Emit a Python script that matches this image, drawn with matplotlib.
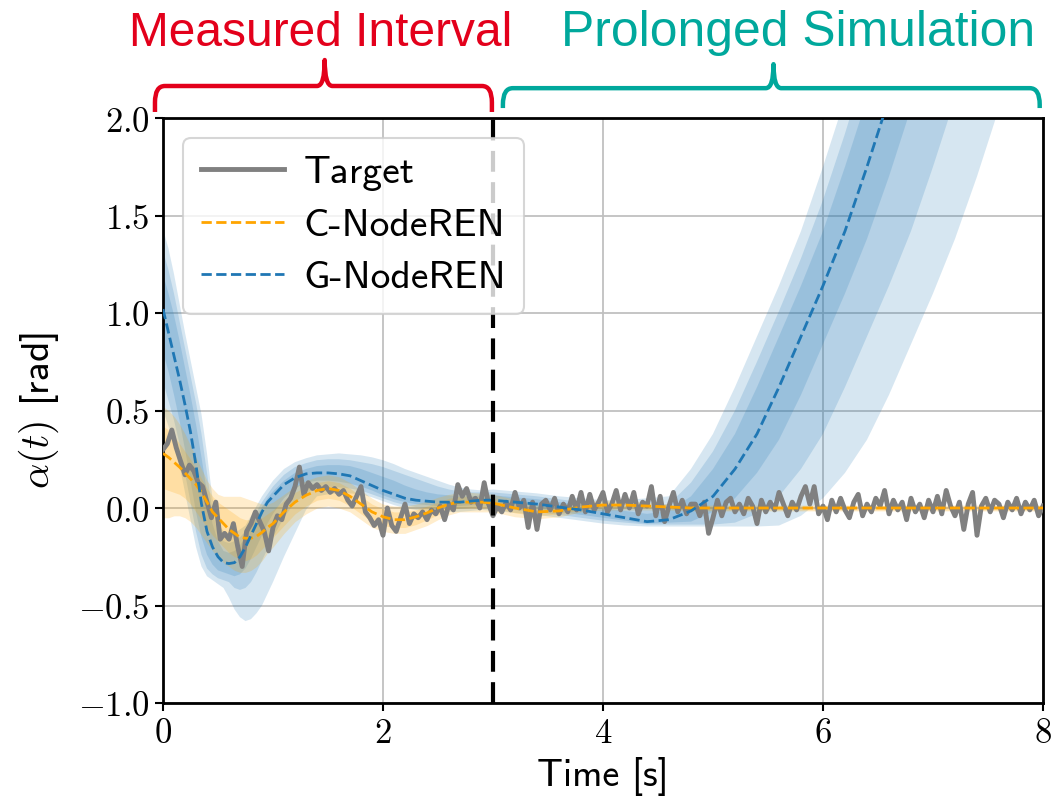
import numpy as np
import matplotlib
matplotlib.use("Agg")
import matplotlib.pyplot as plt
from matplotlib.path import Path
from matplotlib.patches import PathPatch
from matplotlib.ticker import FuncFormatter

plt.rcParams['mathtext.fontset'] = 'cm'
SANS = ['cmss10', 'DejaVu Sans']

# measured target signal, sampled every 0.04 s
t_target = np.arange(201) * 0.04
target = [
    0.30, 0.33, 0.40, 0.31, 0.24, 0.17, 0.22, 0.19, 0.13, 0.11, 0.03, -0.05, 0.03,
    -0.16, -0.13, -0.16, -0.08, -0.20, -0.30, -0.12, -0.08, -0.02, -0.07, -0.12, -0.22,
    -0.10, -0.04, -0.06, 0.02, 0.05, 0.11, 0.21, 0.07, 0.13, 0.10, 0.12, 0.09, 0.11,
    0.08, 0.10, 0.07, 0.09, 0.04, 0.01, 0.06, 0.11, -0.02, -0.05, -0.09, -0.06,
    -0.14, 0.00, -0.09, -0.12, -0.05, 0.02, -0.08, -0.03, -0.05, -0.02, -0.06, -0.01,
    -0.03, 0.01, -0.06, 0.02, -0.01, 0.12, 0.06, 0.10, 0.03, 0.05, 0.00, 0.13, 0.02,
    -0.04, 0.01, -0.02, 0.03, -0.01, 0.08, 0.00, 0.04, -0.10, 0.03, -0.11, 0.02, 0.04,
    -0.01, 0.05, -0.03, 0.02, -0.02, 0.06, -0.01, 0.08, -0.02, 0.07, -0.01, 0.03,
    0.08, -0.02, 0.02, 0.09, -0.01, 0.07, 0.00, 0.08, -0.03, 0.03, 0.01, 0.11, -0.04,
    0.06, -0.07, 0.01, 0.08, -0.02, 0.04, -0.03, 0.02, 0.02, -0.04, 0.03, -0.13,
    -0.05, 0.04, -0.04, 0.03, 0.05, -0.02, 0.02, -0.03, 0.05, 0.01, -0.08, 0.04, -0.02,
    0.03, -0.01, 0.08, 0.02, -0.04, 0.03, -0.01, 0.06, 0.11, 0.02, 0.11, -0.03,
    0.01, -0.06, 0.04, -0.02, 0.05, -0.01, -0.05, 0.03, 0.07, -0.04, 0.02, -0.02, 0.05,
    0.01, 0.09, -0.03, 0.04, -0.01, 0.03, -0.06, 0.05, -0.02, 0.02, -0.05, 0.04,
    -0.02, 0.06, -0.03, 0.09, 0.01, -0.04, 0.03, -0.11, 0.02, 0.08, -0.14, 0.01, 0.05,
    -0.02, 0.04, 0.02, -0.05, 0.03, -0.01, 0.05, -0.03, 0.03, -0.01, 0.04, -0.04,
    0.01,
]

# model time grid
t_model = [
    0.00, 0.05, 0.10, 0.15, 0.20, 0.25, 0.30, 0.35, 0.40, 0.45,
    0.50, 0.55, 0.60, 0.65, 0.70, 0.75, 0.80, 0.85, 0.90, 0.95,
    1.0, 1.1, 1.2, 1.3, 1.4, 1.5, 1.6, 1.7, 1.8, 1.9,
    2.0, 2.1, 2.2, 2.3, 2.4, 2.5, 2.6, 2.7, 2.8, 2.9,
    3.0, 3.2, 3.4, 3.6, 3.8, 4.0, 4.2, 4.4, 4.6, 4.8,
    5.0, 5.2, 5.4, 5.6, 5.8, 6.0, 6.2, 6.4, 6.6, 6.8,
    7.0, 7.2, 7.4, 7.6, 7.8, 8.0,
]

# C-NodeREN mean and two quantile bands
c_mean = [
    0.28, 0.26, 0.235, 0.21, 0.18, 0.15, 0.12, 0.08, 0.03, -0.02,
    -0.05, -0.08, -0.11, -0.13, -0.15, -0.155, -0.155, -0.145, -0.125, -0.10,
    -0.08, -0.02, 0.03, 0.065, 0.09, 0.10, 0.09, 0.06, 0.02, -0.02,
    -0.045, -0.06, -0.06, -0.045, -0.025, 0.0, 0.02, 0.03, 0.03, 0.03,
    0.025, 0.0, -0.02, -0.015, 0.005, 0.015, 0.015, 0.01, 0.005, 0.0,
    0.0, 0.0, 0.0, 0.0, 0.0, 0.0, 0.0, 0.0, 0.0, 0.0,
    0.0, 0.0, 0.0, 0.0, 0.0, 0.0,
]
c_in_lo = [
    0.10, 0.09, 0.08, 0.07, 0.05, 0.02, -0.02, -0.06, -0.10, -0.14,
    -0.17, -0.20, -0.23, -0.25, -0.26, -0.27, -0.26, -0.24, -0.21, -0.18,
    -0.15, -0.09, -0.03, 0.01, 0.04, 0.05, 0.04, 0.01, -0.03, -0.07,
    -0.09, -0.10, -0.10, -0.085, -0.06, -0.035, -0.01, 0.0, 0.0, 0.0,
    0.0, -0.025, -0.04, -0.03, -0.01, 0.0, 0.0, 0.0, -0.005, -0.01,
    -0.01, -0.01, -0.01, -0.01, -0.01, -0.01, -0.01, -0.01, -0.01, -0.01,
    -0.01, -0.01, -0.01, -0.01, -0.01, -0.01,
]
c_in_hi = [
    0.42, 0.40, 0.37, 0.33, 0.29, 0.25, 0.20, 0.15, 0.10, 0.06,
    0.03, 0.01, -0.01, -0.03, -0.05, -0.06, -0.06, -0.06, -0.05, -0.03,
    -0.01, 0.04, 0.08, 0.11, 0.13, 0.14, 0.13, 0.10, 0.06, 0.02,
    -0.005, -0.02, -0.02, -0.01, 0.01, 0.03, 0.05, 0.06, 0.06, 0.055,
    0.05, 0.025, 0.0, 0.0, 0.02, 0.03, 0.03, 0.02, 0.015, 0.01,
    0.01, 0.01, 0.01, 0.01, 0.01, 0.01, 0.01, 0.01, 0.01, 0.01,
    0.01, 0.01, 0.01, 0.01, 0.01, 0.01,
]
c_out_lo = [
    -0.05, -0.05, -0.04, -0.04, -0.05, -0.07, -0.10, -0.14, -0.18, -0.22,
    -0.25, -0.28, -0.30, -0.32, -0.33, -0.33, -0.32, -0.30, -0.27, -0.23,
    -0.20, -0.13, -0.07, -0.03, 0.00, 0.01, 0.00, -0.02, -0.06, -0.10,
    -0.12, -0.13, -0.13, -0.11, -0.09, -0.06, -0.035, -0.02, -0.02, -0.02,
    -0.02, -0.045, -0.055, -0.045, -0.02, -0.01, -0.01, -0.01, -0.01, -0.015,
    -0.015, -0.015, -0.015, -0.015, -0.015, -0.015, -0.015, -0.015, -0.015, -0.015,
    -0.015, -0.015, -0.015, -0.015, -0.015, -0.015,
]
c_out_hi = [
    0.52, 0.50, 0.47, 0.43, 0.38, 0.32, 0.26, 0.20, 0.14, 0.10,
    0.07, 0.06, 0.06, 0.06, 0.06, 0.05, 0.04, 0.03, 0.02, 0.02,
    0.03, 0.07, 0.11, 0.14, 0.16, 0.17, 0.16, 0.13, 0.09, 0.05,
    0.02, 0.01, 0.01, 0.02, 0.035, 0.055, 0.07, 0.08, 0.08, 0.075,
    0.07, 0.045, 0.015, 0.015, 0.03, 0.04, 0.04, 0.03, 0.02, 0.015,
    0.015, 0.015, 0.015, 0.015, 0.015, 0.015, 0.015, 0.015, 0.015, 0.015,
    0.015, 0.015, 0.015, 0.015, 0.015, 0.015,
]

# G-NodeREN mean and three quantile bands (dark = inner, light = outer)
g_mean = [
    1.02, 0.90, 0.78, 0.66, 0.53, 0.39, 0.22, 0.02, -0.12, -0.20,
    -0.25, -0.28, -0.285, -0.28, -0.25, -0.20, -0.14, -0.08, -0.02, 0.03,
    0.06, 0.12, 0.155, 0.175, 0.18, 0.18, 0.175, 0.165, 0.14, 0.115,
    0.09, 0.07, 0.05, 0.04, 0.035, 0.03, 0.03, 0.03, 0.035, 0.04,
    0.04, 0.03, 0.02, 0.005, -0.01, -0.03, -0.05, -0.07, -0.06, -0.015,
    0.06, 0.20, 0.38, 0.62, 0.88, 1.14, 1.42, 1.75, 2.10, 2.48,
    2.88, 3.30, 3.75, 4.20, 4.70, 5.20,
]
g_dark_lo = [
    0.80, 0.70, 0.58, 0.45, 0.30, 0.14, -0.02, -0.15, -0.24, -0.29,
    -0.32, -0.33, -0.34, -0.35, -0.34, -0.31, -0.26, -0.20, -0.14, -0.08,
    -0.03, 0.05, 0.10, 0.13, 0.14, 0.14, 0.135, 0.125, 0.11, 0.09,
    0.065, 0.045, 0.03, 0.02, 0.015, 0.01, 0.01, 0.01, 0.015, 0.02,
    0.015, 0.005, -0.005, -0.02, -0.035, -0.05, -0.065, -0.08, -0.075, -0.07,
    -0.02, 0.05, 0.18, 0.35, 0.58, 0.84, 1.10, 1.38, 1.70, 2.05,
    2.42, 2.82, 3.23, 3.68, 4.13, 4.62,
]
g_dark_hi = [
    1.20, 1.10, 0.99, 0.86, 0.72, 0.58, 0.43, 0.26, 0.08, -0.08,
    -0.17, -0.22, -0.23, -0.22, -0.19, -0.15, -0.10, -0.045, 0.005, 0.05,
    0.085, 0.14, 0.18, 0.20, 0.215, 0.22, 0.22, 0.215, 0.20, 0.18,
    0.16, 0.14, 0.115, 0.095, 0.08, 0.07, 0.065, 0.06, 0.06, 0.065,
    0.065, 0.055, 0.045, 0.03, 0.015, 0.0, -0.015, -0.03, -0.015, 0.06,
    0.20, 0.38, 0.62, 0.88, 1.14, 1.42, 1.75, 2.10, 2.48, 2.88,
    3.30, 3.75, 4.20, 4.70, 5.20, 5.70,
]
g_med_lo = [
    0.65, 0.55, 0.45, 0.33, 0.18, 0.03, -0.12, -0.24, -0.31, -0.34,
    -0.36, -0.37, -0.38, -0.41, -0.42, -0.41, -0.38, -0.33, -0.27, -0.21,
    -0.15, -0.05, 0.03, 0.07, 0.11, 0.11, 0.105, 0.10, 0.09, 0.07,
    0.05, 0.03, 0.015, 0.005, 0.0, -0.005, -0.005, -0.005, 0.0, 0.005,
    0.0, -0.01, -0.02, -0.035, -0.05, -0.065, -0.075, -0.085, -0.085, -0.085,
    -0.085, -0.075, -0.03, 0.06, 0.20, 0.38, 0.62, 0.88, 1.14, 1.42,
    1.75, 2.10, 2.48, 2.88, 3.30, 3.75,
]
g_med_hi = [
    1.32, 1.22, 1.10, 0.96, 0.82, 0.68, 0.54, 0.38, 0.18, -0.02,
    -0.13, -0.17, -0.18, -0.17, -0.15, -0.12, -0.07, -0.02, 0.03, 0.07,
    0.11, 0.17, 0.21, 0.23, 0.245, 0.25, 0.25, 0.245, 0.235, 0.225,
    0.21, 0.19, 0.17, 0.15, 0.13, 0.11, 0.095, 0.085, 0.08, 0.08,
    0.08, 0.07, 0.06, 0.045, 0.03, 0.02, 0.01, 0.01, 0.02, 0.13,
    0.29, 0.50, 0.75, 1.01, 1.28, 1.58, 1.92, 2.29, 2.68, 3.09,
    3.52, 3.97, 4.45, 4.95, 5.45, 5.95,
]
g_light_lo = [
    0.50, 0.42, 0.33, 0.22, 0.08, -0.06, -0.20, -0.30, -0.35, -0.37,
    -0.39, -0.41, -0.46, -0.52, -0.56, -0.58, -0.57, -0.54, -0.50, -0.44,
    -0.38, -0.25, -0.13, -0.01, 0.06, 0.07, 0.075, 0.075, 0.07, 0.055,
    0.035, 0.015, 0.0, -0.01, -0.015, -0.02, -0.02, -0.02, -0.015, -0.01,
    -0.015, -0.025, -0.035, -0.05, -0.065, -0.08, -0.09, -0.095, -0.095, -0.095,
    -0.095, -0.095, -0.095, -0.09, -0.04, 0.05, 0.18, 0.35, 0.58, 0.84,
    1.10, 1.38, 1.70, 2.05, 2.42, 2.82,
]
g_light_hi = [
    1.43, 1.33, 1.20, 1.05, 0.90, 0.76, 0.62, 0.48, 0.28, 0.05,
    -0.08, -0.12, -0.13, -0.13, -0.11, -0.09, -0.04, 0.01, 0.06, 0.10,
    0.14, 0.20, 0.235, 0.255, 0.27, 0.275, 0.28, 0.275, 0.27, 0.26,
    0.245, 0.225, 0.20, 0.18, 0.16, 0.14, 0.12, 0.105, 0.095, 0.09,
    0.095, 0.085, 0.075, 0.06, 0.05, 0.04, 0.04, 0.05, 0.06, 0.20,
    0.38, 0.62, 0.88, 1.14, 1.42, 1.75, 2.10, 2.48, 2.88, 3.30,
    3.75, 4.20, 4.70, 5.20, 5.70, 6.20,
]

t_split = 3.0
x_ticks = [0, 2, 4, 6, 8]
y_ticks = [-1.0, -0.5, 0.0, 0.5, 1.0, 1.5, 2.0]

RED = '#e3001b'
TEAL = '#00a89c'
BLUE = '#1f77b4'
ORANGE = 'orange'


def brace(ax, x0, x1, xc, y_end, y_bar, y_tip, color):
    # curly brace, x in data units, y in axes units
    rx, ry, w = 0.09, 0.028, 0.07
    verts = [
        (x0, y_end), (x0, y_bar - ry),
        (x0, y_bar), (x0 + rx, y_bar),
        (xc - w, y_bar),
        (xc, y_bar), (xc, y_tip),
        (xc, y_bar), (xc + w, y_bar),
        (x1 - rx, y_bar),
        (x1, y_bar), (x1, y_bar - ry),
        (x1, y_end),
    ]
    codes = [
        Path.MOVETO, Path.LINETO,
        Path.CURVE3, Path.CURVE3,
        Path.LINETO,
        Path.CURVE3, Path.CURVE3,
        Path.CURVE3, Path.CURVE3,
        Path.LINETO,
        Path.CURVE3, Path.CURVE3,
        Path.LINETO,
    ]
    patch = PathPatch(Path(verts, codes), transform=ax.get_xaxis_transform(),
                      fill=False, edgecolor=color, lw=3.2, clip_on=False,
                      capstyle='butt', joinstyle='round')
    ax.add_patch(patch)


fig = plt.figure(figsize=(10.55, 8.06), dpi=100)
ax = fig.add_axes([163 / 1055, 103 / 806, 880 / 1055, 585 / 806])

# uncertainty bands
for lo, hi in [(g_light_lo, g_light_hi), (g_med_lo, g_med_hi), (g_dark_lo, g_dark_hi)]:
    ax.fill_between(t_model, lo, hi, color=BLUE, alpha=0.18, lw=0, zorder=2)
for lo, hi in [(c_out_lo, c_out_hi), (c_in_lo, c_in_hi)]:
    ax.fill_between(t_model, lo, hi, color=ORANGE, alpha=0.2, lw=0, zorder=2)

ax.plot(t_target, target, color='gray', lw=3.5, label='Target', zorder=3)
ax.plot(t_model, c_mean, color=ORANGE, ls='--', lw=2, label='C-NodeREN', zorder=4)
ax.plot(t_model, g_mean, color=BLUE, ls='--', lw=2, label='G-NodeREN', zorder=4)
ax.axvline(t_split, color='black', ls=(0, (5, 2.5)), lw=3, zorder=4.5)

ax.set_xlim(0, 8)
ax.set_ylim(-1, 2)
ax.set_xticks(x_ticks)
ax.set_yticks(y_ticks)
ax.xaxis.set_major_formatter(FuncFormatter(lambda v, p: r'$%d$' % v))
ax.yaxis.set_major_formatter(FuncFormatter(lambda v, p: r'$%.1f$' % v))
ax.tick_params(labelsize=25, width=1.5, length=6)
ax.grid(True, color='#c0c0c0', lw=1.3, zorder=0)
ax.set_axisbelow(True)
for s in ax.spines.values():
    s.set_linewidth(2)

ax.set_xlabel('Time [s]', family=SANS, fontsize=27.5, labelpad=5)
ax.set_ylabel(r'$\alpha(t)$ [rad]', family=SANS, fontsize=28.5, labelpad=12)

leg = ax.legend(loc='upper left', prop={'family': SANS, 'size': 28.5},
                handlelength=2.1, handletextpad=0.5, labelspacing=0.42,
                borderpad=0.45, framealpha=0.8, edgecolor='#cccccc', fancybox=True)
leg.get_frame().set_linewidth(1.5)
leg.set_zorder(6)

# interval annotations above the axes
brace(ax, -0.073, 2.99, 1.47, 1.0103, 1.0547, 1.0991, RED)
brace(ax, 3.09, 7.97, 5.55, 1.017, 1.051, 1.092, TEAL)
ax.text(1.43, 1.145, 'Measured Interval', transform=ax.get_xaxis_transform(),
        ha='center', va='center', color=RED, fontsize=34.5, family='Liberation Sans')
ax.text(5.77, 1.145, 'Prolonged Simulation', transform=ax.get_xaxis_transform(),
        ha='center', va='center', color=TEAL, fontsize=35.8, family='Liberation Sans')

fig.savefig('out.png', dpi=100)
